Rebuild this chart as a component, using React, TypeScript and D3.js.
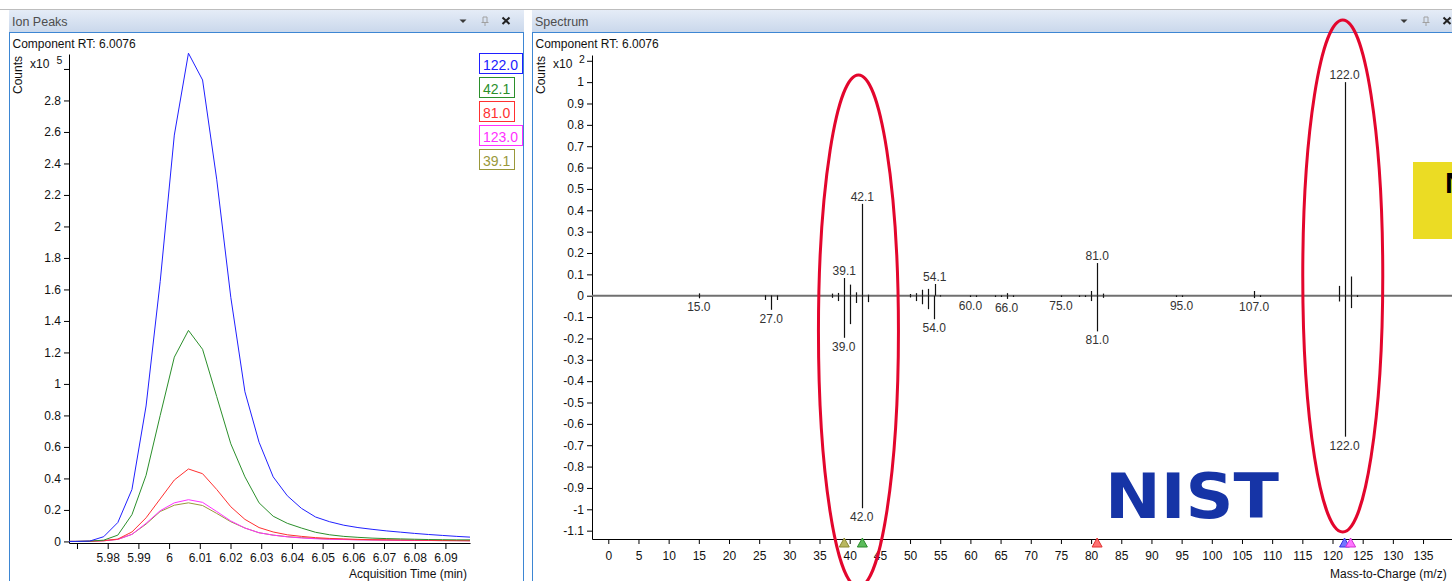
import React, { useEffect, useRef } from "react";
import * as d3 from "d3";

const W = 1452;
const H = 581;

// ---- Ion Peaks (left) ----
const times = [5.9649, 5.9695, 5.9741, 5.9787, 5.9833, 5.9879, 5.9925, 5.9971, 6.0017, 6.0063, 6.0109, 6.0155, 6.0201, 6.0247, 6.0293, 6.0339, 6.0385, 6.0431, 6.0477, 6.0523, 6.0569, 6.0615, 6.0661, 6.0707, 6.0753, 6.0799, 6.0845, 6.0891, 6.0937, 6.0983];
const ion122 = [0, 0, 0.002, 0.03, 0.12, 0.33, 0.86, 1.65, 2.58, 3.10, 2.93, 2.30, 1.55, 0.95, 0.63, 0.41, 0.29, 0.21, 0.155, 0.125, 0.103, 0.088, 0.077, 0.067, 0.059, 0.051, 0.044, 0.038, 0.032, 0.027];
const ion42 = [0, 0, 0.002, 0.008, 0.04, 0.17, 0.42, 0.80, 1.17, 1.34, 1.22, 0.92, 0.62, 0.41, 0.245, 0.16, 0.115, 0.085, 0.058, 0.042, 0.032, 0.026, 0.021, 0.018, 0.016, 0.014, 0.012, 0.011, 0.01, 0.01];
const ion81 = [0, 0, 0.001, 0.005, 0.015, 0.06, 0.15, 0.27, 0.39, 0.46, 0.43, 0.33, 0.22, 0.14, 0.088, 0.06, 0.042, 0.032, 0.024, 0.019, 0.016, 0.013, 0.011, 0.01, 0.009, 0.008, 0.007, 0.006, 0.005, 0.005];
const ion123 = [0, 0, 0.001, 0.004, 0.013, 0.045, 0.115, 0.195, 0.245, 0.265, 0.248, 0.19, 0.13, 0.085, 0.055, 0.04, 0.029, 0.022, 0.017, 0.014, 0.012, 0.01, 0.009, 0.008, 0.007, 0.006, 0.006, 0.005, 0.005, 0.004];
const ion39 = [0, 0, 0.001, 0.004, 0.013, 0.045, 0.11, 0.19, 0.23, 0.245, 0.228, 0.178, 0.125, 0.085, 0.055, 0.04, 0.03, 0.024, 0.019, 0.015, 0.013, 0.011, 0.01, 0.009, 0.008, 0.007, 0.006, 0.005, 0.005, 0.004];
const ionNames = ["122.0", "42.1", "81.0", "123.0", "39.1"];
const ionColors = ["#2020ff", "#2b8f2b", "#ff3030", "#ff30ff", "#9a983a"];
const timeTicks = [5.97, 5.98, 5.99, 6.0, 6.01, 6.02, 6.03, 6.04, 6.05, 6.06, 6.07, 6.08, 6.09];
const countTicks = [0, 0.2, 0.4, 0.6, 0.8, 1, 1.2, 1.4, 1.6, 1.8, 2, 2.2, 2.4, 2.6, 2.8, 3];

// ---- Spectrum (right) ----
const obsMz = [15, 26, 27, 28, 37, 38, 39.1, 40, 41, 42.1, 43, 50, 51, 52, 53, 54.1, 55, 60, 61, 64, 65, 66, 67, 75, 78, 79, 80, 81, 82, 94, 95, 107, 108, 121, 122, 123, 124];
const obsInt = [0.011, 0.003, 0.002, 0.002, 0.01, 0.013, 0.083, 0.052, 0.016, 0.43, 0.005, 0.008, 0.012, 0.028, 0.032, 0.055, 0.003, 0.002, 0.002, 0.002, 0.002, 0.012, 0.002, 0.002, 0.002, 0.002, 0.022, 0.153, 0.01, 0.002, 0.002, 0.022, 0.003, 0.046, 1.0, 0.09, 0.003];
const libMz = [15, 26, 27, 28, 37, 38, 39, 40, 41, 42, 43, 50, 51, 52, 53, 54, 55, 60, 61, 64, 65, 66, 67, 75, 78, 79, 80, 81, 82, 94, 95, 107, 108, 121, 122, 123, 124];
const libInt = [0.012, 0.02, 0.066, 0.02, 0.01, 0.025, 0.197, 0.133, 0.034, 0.995, 0.03, 0.008, 0.025, 0.04, 0.063, 0.11, 0.004, 0.006, 0.006, 0.006, 0.006, 0.015, 0.006, 0.006, 0.006, 0.006, 0.025, 0.167, 0.01, 0.006, 0.006, 0.011, 0.006, 0.027, 0.66, 0.058, 0.006];
const obsLabelMz = [39.1, 42.1, 54.1, 81.0, 122.0];
const libLabelMz = [15, 27, 39, 42, 54, 60, 66, 75, 81, 95, 107, 122];
const mzTicks = [0, 5, 10, 15, 20, 25, 30, 35, 40, 45, 50, 55, 60, 65, 70, 75, 80, 85, 90, 95, 100, 105, 110, 115, 120, 125, 130, 135];
const intTicks = [1.1, 1, 0.9, 0.8, 0.7, 0.6, 0.5, 0.4, 0.3, 0.2, 0.1, 0, -0.1, -0.2, -0.3, -0.4, -0.5, -0.6, -0.7, -0.8, -0.9, -1, -1.1];
const markerMz = [39.1, 42.1, 81.0, 122.0, 123.0];
const markerFill = ["#b9b760", "#5cbc5c", "#ff7272", "#7474ff", "#ff74ff"];
const markerStroke = ["#8a8830", "#2a8a2a", "#e03030", "#3030e0", "#d030d0"];

const FONT = "'Liberation Sans', Arial, sans-serif";
const BORDER = "#3d86d3";

export default function App() {
  const ref = useRef<SVGSVGElement>(null);

  useEffect(() => {
    const svg = d3.select(ref.current);
    svg.selectAll("*").remove();
    svg.attr("font-family", FONT);

    const defs = svg.append("defs");
    const grad = defs.append("linearGradient").attr("id", "hdr")
      .attr("x1", 0).attr("y1", 0).attr("x2", 0).attr("y2", 1);
    grad.append("stop").attr("offset", "0%").attr("stop-color", "#e5ecf7");
    grad.append("stop").attr("offset", "100%").attr("stop-color", "#cad8ec");

    svg.append("rect").attr("width", W).attr("height", H).attr("fill", "#fff");
    svg.append("line").attr("x1", 0).attr("x2", W).attr("y1", 9.5).attr("y2", 9.5)
      .attr("stroke", "#bdbdbd");

    // panel frames
    const panel = (x0: number, x1: number, iconEnd: number, title: string) => {
      svg.append("rect").attr("x", x0).attr("y", 10).attr("width", x1 - x0).attr("height", 22)
        .attr("fill", "url(#hdr)");
      svg.append("text").attr("x", x0 + 3).attr("y", 25.5).attr("font-size", 12.5)
        .attr("fill", "#4d4d4d").text(title);
      const ix = iconEnd - 61;
      svg.append("path").attr("d", `M${ix - 3.5},19.5 L${ix + 3.5},19.5 L${ix},23 Z`).attr("fill", "#3a3a3a");
      const px = iconEnd - 39;
      svg.append("path")
        .attr("d", `M${px - 2},17 V22 M${px + 2},17 V22 M${px - 3.5},22.5 H${px + 3.5} M${px},22.5 V26 M${px - 2},17 H${px + 2}`)
        .attr("stroke", "#a0a0a0").attr("fill", "none");
      const cx = iconEnd - 18;
      svg.append("path").attr("d", `M${cx - 3.5},17.5 L${cx + 3.5},24 M${cx + 3.5},17.5 L${cx - 3.5},24`)
        .attr("stroke", "#222").attr("stroke-width", 2);
      svg.append("line").attr("x1", x0).attr("x2", x1).attr("y1", 32.5).attr("y2", 32.5).attr("stroke", BORDER);
      svg.append("line").attr("x1", x0 + 0.5).attr("x2", x0 + 0.5).attr("y1", 32).attr("y2", H).attr("stroke", BORDER);
      svg.append("text").attr("x", x0 + 3.5).attr("y", 47.5).attr("font-size", 12).attr("fill", "#111")
        .text("Component RT: 6.0076");
    };
    panel(9, 524, 524, "Ion Peaks");
    svg.append("line").attr("x1", 523.5).attr("x2", 523.5).attr("y1", 32).attr("y2", H).attr("stroke", BORDER);
    panel(532, W, 1465, "Spectrum");

    // ---------- left chart ----------
    const xL = d3.scaleLinear().domain([5.9674, 6.098]).range([69, 470]);
    const yL = d3.scaleLinear().domain([-0.01, 3.095]).range([543, 54]);

    defs.append("clipPath").attr("id", "clipL").append("rect")
      .attr("x", 69).attr("y", 40).attr("width", 401).attr("height", 503);

    const ax = svg.append("g").attr("transform", "translate(0,543)")
      .call(d3.axisBottom(xL).tickValues(timeTicks).tickSize(6).tickPadding(4).tickSizeOuter(0)
        .tickFormat((d: any) => (d === 5.97 ? "" : String(+(+d).toFixed(2)))));
    const ay = svg.append("g").attr("transform", "translate(69,0)")
      .call(d3.axisLeft(yL).tickValues(countTicks).tickSize(5).tickPadding(3).tickSizeOuter(0)
        .tickFormat((d: any) => (d === 3 ? "" : String(+(+d).toFixed(1)))));
    [ax, ay].forEach(g => {
      g.attr("font-size", 12).attr("font-family", FONT);
      g.selectAll("text").attr("fill", "#111");
      g.selectAll("line,path").attr("stroke", "#000");
    });

    svg.append("text").attr("transform", "translate(22,75) rotate(-90)").attr("text-anchor", "middle")
      .attr("font-size", 12).attr("fill", "#111").text("Counts");
    svg.append("text").attr("x", 30).attr("y", 68).attr("font-size", 12).attr("fill", "#111").text("x10");
    svg.append("text").attr("x", 56.5).attr("y", 63.5).attr("font-size", 10.5).attr("fill", "#111").text("5");
    svg.append("text").attr("x", 467).attr("y", 577.5).attr("text-anchor", "end")
      .attr("font-size", 12).attr("fill", "#111").text("Acquisition Time (min)");

    const series = [ion122, ion42, ion81, ion123, ion39];
    const line = d3.line<number>().x((_, i) => xL(times[i])).y(d => yL(d));
    const gl = svg.append("g").attr("clip-path", "url(#clipL)");
    [4, 3, 2, 1, 0].forEach(i => {
      gl.append("path").attr("d", line(series[i]) as string).attr("fill", "none")
        .attr("stroke", ionColors[i]).attr("stroke-width", 1);
    });

    // legend
    ionNames.forEach((name, i) => {
      const y0 = 53.5 + i * 24;
      const t = svg.append("text").attr("x", 483).attr("y", y0 + 16.5).attr("font-size", 14)
        .attr("fill", ionColors[i]).text(name);
      const w = (t.node() as SVGTextElement).getComputedTextLength();
      svg.insert("rect", () => t.node() as any).attr("x", 479.5).attr("y", y0).attr("width", Math.round(w + 8))
        .attr("height", 20).attr("fill", "#fff").attr("stroke", ionColors[i]);
    });

    // ---------- right chart ----------
    const xR = d3.scaleLinear().domain([-2.7, 139.8]).range([592, 1452]);
    const yR = d3.scaleLinear().domain([-1.139, 1.127]).range([539, 55]);

    const bx = svg.append("g").attr("transform", "translate(0,539)")
      .call(d3.axisBottom(xR).tickValues(mzTicks).tickSize(5).tickPadding(7).tickSizeOuter(0)
        .tickFormat((d: any) => String(d)));
    const by = svg.append("g").attr("transform", "translate(592,0)")
      .call(d3.axisLeft(yR).tickValues(intTicks).tickSize(5).tickPadding(3).tickSizeOuter(0)
        .tickFormat((d: any) => (d === 1.1 ? "" : String(+(+d).toFixed(1)))));
    [bx, by].forEach(g => {
      g.attr("font-size", 12).attr("font-family", FONT);
      g.selectAll("text").attr("fill", "#111");
      g.selectAll("line,path").attr("stroke", "#000");
    });

    svg.append("text").attr("transform", "translate(545,75) rotate(-90)").attr("text-anchor", "middle")
      .attr("font-size", 12).attr("fill", "#111").text("Counts");
    svg.append("text").attr("x", 553).attr("y", 68).attr("font-size", 12).attr("fill", "#111").text("x10");
    svg.append("text").attr("x", 579).attr("y", 63).attr("font-size", 10.5).attr("fill", "#111").text("2");
    svg.append("text").attr("x", 1330).attr("y", 577.5).attr("font-size", 12).attr("fill", "#111")
      .text("Mass-to-Charge (m/z)");

    // zero line
    svg.append("line").attr("x1", 592).attr("x2", W).attr("y1", yR(0)).attr("y2", yR(0))
      .attr("stroke", "#707070").attr("stroke-width", 2);

    const px = (mz: number) => Math.round(xR(mz)) + 0.5;
    obsMz.forEach((mz, i) => {
      svg.append("line").attr("x1", px(mz)).attr("x2", px(mz)).attr("y1", yR(0)).attr("y2", yR(obsInt[i]))
        .attr("stroke", "#111").attr("stroke-width", 1.2);
    });
    libMz.forEach((mz, i) => {
      svg.append("line").attr("x1", px(mz)).attr("x2", px(mz)).attr("y1", yR(0)).attr("y2", yR(-libInt[i]))
        .attr("stroke", "#111").attr("stroke-width", 1.2);
    });

    obsLabelMz.forEach(mz => {
      const v = obsInt[obsMz.indexOf(mz)];
      svg.append("text").attr("x", xR(mz)).attr("y", yR(v) - 3).attr("text-anchor", "middle")
        .attr("font-size", 12).attr("fill", "#333").text(mz.toFixed(1));
    });
    libLabelMz.forEach(mz => {
      const v = libInt[libMz.indexOf(mz)];
      svg.append("text").attr("x", xR(mz)).attr("y", Math.max(yR(-v) + 13, 310)).attr("text-anchor", "middle")
        .attr("font-size", 12).attr("fill", "#333").text(mz.toFixed(1));
    });

    // ion markers on the m/z axis
    markerMz.forEach((mz, i) => {
      const x = xR(mz);
      svg.append("path").attr("d", `M${x - 5},547 L${x},538 L${x + 5},547 Z`)
        .attr("fill", markerFill[i]).attr("stroke", markerStroke[i]).attr("stroke-width", 1);
    });

    // NIST logo
    svg.append("text").attr("x", 1105).attr("y", 518).attr("font-family", "'DejaVu Sans', sans-serif")
      .attr("font-weight", 900).attr("font-size", 63).attr("textLength", 174)
      .attr("lengthAdjust", "spacingAndGlyphs").attr("fill", "#1634a6").text("NIST");

    // yellow note box (cut at right edge)
    svg.append("rect").attr("x", 1413).attr("y", 162).attr("width", 50).attr("height", 77).attr("fill", "#ebdc24");
    svg.append("text").attr("x", 1445).attr("y", 193).attr("font-size", 30).attr("font-weight", 700)
      .attr("fill", "#000").text("N");

    // red highlight ellipses
    svg.append("ellipse").attr("cx", xR(41.45)).attr("cy", 331).attr("rx", 40).attr("ry", 256)
      .attr("fill", "none").attr("stroke", "#e3062d").attr("stroke-width", 3);
    svg.append("ellipse").attr("cx", xR(121.7)).attr("cy", 276).attr("rx", 40).attr("ry", 256)
      .attr("fill", "none").attr("stroke", "#e3062d").attr("stroke-width", 3);
  }, []);

  return (
    <svg ref={ref} width={W} height={H} style={{ position: "absolute", left: 0, top: 0, display: "block" }} />
  );
}
